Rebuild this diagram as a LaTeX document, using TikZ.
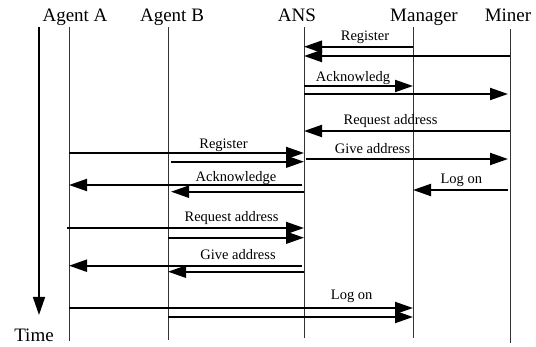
\documentclass[tikz,border=0pt]{standalone}
\usepackage{fontspec}
\setmainfont{Liberation Serif}
\usetikzlibrary{arrows.meta}
\tikzset{
	head/.style={anchor=base, inner sep=0pt, font=\fontsize{19}{22}\selectfont},
	lbl/.style={anchor=base, inner sep=0pt, font=\fontsize{14.5}{17}\selectfont},
	life/.style={line width=1pt, black!80},
	msg/.style={line width=2pt, -{Triangle[length=18pt,width=12pt]}}
}
\begin{document}
\begin{tikzpicture}[x=1pt, y=-1pt]
		\useasboundingbox ( 0, 0 ) rectangle ( 536, 347 );

		% заголовки
		\node [head] (agentA)  at (  75, 22 ) {Agent A};
		\node [head] (agentB)  at ( 172, 22 ) {Agent B};
		\node [head] (ansT)    at ( 297, 22 ) {ANS};
		\node [head] (managerT) at ( 424, 22 ) {Manager};
		\node [head] (minerT)  at ( 508, 22 ) {Miner};
		\node [head] (time)    at (  34, 341.5 ) {Time};

		% линии жизни
		\coordinate (A)  at (  69, 27 );
		\coordinate (B)  at ( 168, 27 );
		\coordinate (N)  at ( 304, 27 );
		\coordinate (M)  at ( 413, 27 );
		\coordinate (R)  at ( 510, 29 );
		\draw [life] (A) -- ( A |- 0, 341 );
		\draw [life] (B) -- ( B |- 0, 340 );
		\draw [life] (N) -- ( N |- 0, 338 );
		\draw [life] (M) -- ( M |- 0, 338 );
		\draw [life] (R) -- ( R |- 0, 343 );

		% ось времени
		\coordinate (t0) at ( 39, 27 );
		\coordinate (t1) at ( 39, 315 );
		\draw [line width=1.6pt, -{Triangle[length=18pt,width=12pt]}] (t0) -- (t1);

		% регистрация Manager и Miner
		\draw [msg] ( M |- 0, 46.7 ) -- ( N |- 0, 46.7 );
		\draw [msg] ( R |- 0, 56 ) -- ( N |- 0, 56 );
		\node [lbl] (regR) at ( 365, 41 ) {Register};

		\draw [msg] ( N |- 0, 86 ) -- ( M |- 0, 86 );
		\draw [msg] ( N |- 0, 94 ) -- ( [xshift=-2pt]R |- 0, 94 );
		\node [lbl] (ackR) at ( 353, 81.5 ) {Acknowledg};

		% запрос адреса от Miner
		\draw [msg] ( R |- 0, 131 ) -- ( N |- 0, 131 );
		\node [lbl] (reqR) at ( 390.5, 125 ) {Request address};

		\draw [msg] ( [xshift=2pt]N |- 0, 159 ) -- ( [xshift=-2pt]R |- 0, 159 );
		\node [lbl] (giveR) at ( 372.5, 154 ) {Give address};

		% регистрация Agent A и Agent B
		\draw [msg] ( A |- 0, 153 ) -- ( N |- 0, 153 );
		\draw [msg] ( [xshift=3pt]B |- 0, 161.7 ) -- ( N |- 0, 161.7 );
		\node [lbl] (regL) at ( 223.5, 148.3 ) {Register};

		\draw [msg] ( [xshift=-2pt]N |- 0, 185 ) -- ( A |- 0, 185 );
		\draw [msg] ( N |- 0, 191.7 ) -- ( [xshift=3pt]B |- 0, 191.7 );
		\node [lbl] (ackL) at ( 236, 181.7 ) {Acknowledge};

		% Miner -> Manager
		\draw [msg] ( [xshift=-2pt]R |- 0, 190 ) -- ( M |- 0, 190 );
		\node [lbl] (logR) at ( 461.3, 183.3 ) {Log on};

		% запрос адреса от агентов
		\draw [msg] ( [xshift=-2pt]A |- 0, 228 ) -- ( N |- 0, 228 );
		\draw [msg] ( B |- 0, 237.7 ) -- ( N |- 0, 237.7 );
		\node [lbl] (reqL) at ( 231.5, 221.7 ) {Request address};

		\draw [msg] ( [xshift=-2pt]N |- 0, 265.7 ) -- ( A |- 0, 265.7 );
		\draw [msg] ( N |- 0, 271.7 ) -- ( B |- 0, 271.7 );
		\node [lbl] (giveL) at ( 238, 260 ) {Give address};

		% агенты -> Manager
		\draw [msg] ( A |- 0, 308 ) -- ( M |- 0, 308 );
		\draw [msg] ( B |- 0, 317 ) -- ( M |- 0, 317 );
		\node [lbl] (logL) at ( 351.7, 300 ) {Log on};
\end{tikzpicture}
\end{document}
